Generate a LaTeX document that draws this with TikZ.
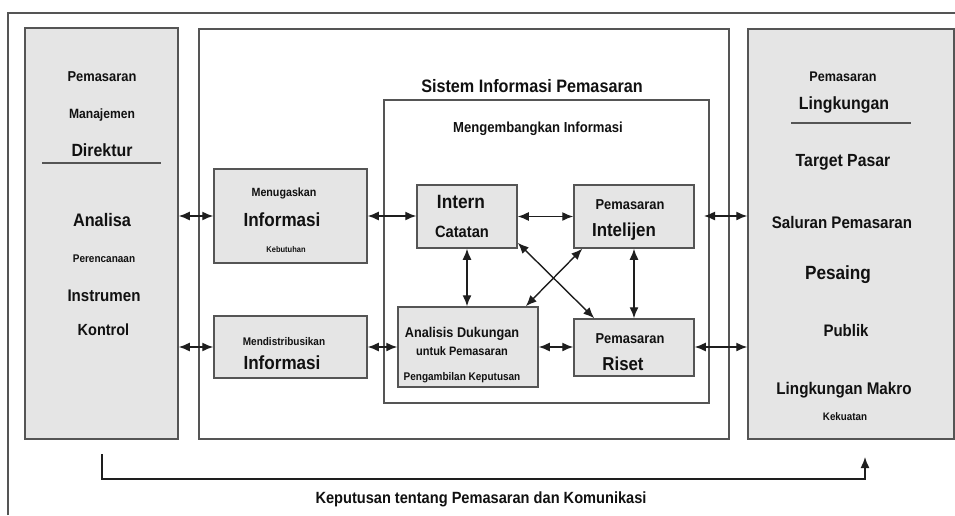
\documentclass[tikz,border=0pt]{standalone}
\usepackage{fontspec}
\setmainfont{Liberation Sans}[FakeStretch=0.9]
\usetikzlibrary{arrows.meta,calc}

\definecolor{boxgray}{HTML}{555555}
\definecolor{boxfill}{HTML}{E5E5E5}
\definecolor{txtgray}{HTML}{111111}
\definecolor{linegray}{HTML}{1E1E1E}
\newcommand{\fsz}[1]{\fontsize{\fpeval{#1*10/9}}{\fpeval{#1*10/9}}\selectfont\bfseries}

\begin{document}
\begin{tikzpicture}[x=1pt,y=-1pt,
    box/.style={draw=boxgray, line width=1.5pt, fill=boxfill, inner sep=0pt},
    panel/.style={draw=boxgray, line width=1.5pt, inner sep=0pt},
    lbl/.style={anchor=base, inner sep=0pt, text=txtgray},
    conn/.style={draw=linegray, line width=1.4pt, {Latex[length=11pt,width=9pt]}-{Latex[length=11pt,width=9pt]}},
    fback/.style={draw=linegray, line width=1.4pt, -{Latex[length=11pt,width=9pt]}}]
\useasboundingbox (0,0) rectangle (955,515);

% outer frame (cut off at right and bottom)
\draw[boxgray, line width=2pt] (8,515) |- (955,13);

% the three columns
\node[box, minimum width=153pt, minimum height=411pt] (lbox) at (101.5,233.5) {};
\node[panel, minimum width=530pt, minimum height=410pt] (mid) at (464,234) {};
\node[box, minimum width=206pt, minimum height=410pt] (rbox) at (851,234) {};
\node[panel, minimum width=325pt, minimum height=303pt] (inner) at (546.5,251.5) {};

% inner boxes
\node[box, minimum width=153pt, minimum height=94pt] (menu) at (290.5,216) {};
\node[box, minimum width=153pt, minimum height=62pt] (dist) at (290.5,347) {};
\node[box, minimum width=100pt, minimum height=63pt] (intern) at (467,216.5) {};
\node[box, minimum width=120pt, minimum height=63pt] (intel) at (634,216.5) {};
\node[box, minimum width=140pt, minimum height=80pt] (anl) at (468,347) {};
\node[box, minimum width=120pt, minimum height=57pt] (riset) at (634,347.5) {};

% left column text
\node[lbl] (lpem) at (102,81) {\fsz{12.9}Pemasaran};
\node[lbl] (lman) at (102,118) {\fsz{12.1}Manajemen};
\node[lbl] (ldir) at (102,156.5) {\fsz{15.9}Direktur};
\draw[boxgray, line width=1.5pt] (42,163) -- (161,163);
\node[lbl] (lana) at (102,226.5) {\fsz{16.3}Analisa};
\node[lbl] (lper) at (104,262) {\fsz{10}Perencanaan};
\node[lbl] (lins) at (104,301) {\fsz{15.1}Instrumen};
\node[lbl] (lkon) at (103.5,335.8) {\fsz{14.5}Kontrol};

% middle text
\node[lbl] (title) at (532,92.5) {\fsz{16.2}Sistem Informasi Pemasaran};
\node[lbl] (dev) at (538,132.2) {\fsz{13.1}Mengembangkan Informasi};
\node[lbl] (menua) at (284,196.3) {\fsz{10.7}Menugaskan};
\node[lbl] (menub) at (282,226.9) {\fsz{17.1}Informasi};
\node[lbl] (menuc) at (286,252) {\fsz{7.5}Kebutuhan};
\node[lbl] (dista) at (284,345) {\fsz{10}Mendistribusikan};
\node[lbl] (distb) at (282,369.9) {\fsz{17.1}Informasi};
\node[lbl] (interna) at (461,208.9) {\fsz{17.3}Intern};
\node[lbl] (internb) at (462,237.9) {\fsz{14.7}Catatan};
\node[lbl] (intela) at (630,209.1) {\fsz{12.9}Pemasaran};
\node[lbl] (intelb) at (624,236.8) {\fsz{16.9}Intelijen};
\node[lbl] (anla) at (462,337.1) {\fsz{12.7}Analisis Dukungan};
\node[lbl] (anlb) at (462,355.4) {\fsz{11}untuk Pemasaran};
\node[lbl] (anlc) at (462,380) {\fsz{10}Pengambilan Keputusan};
\node[lbl] (riseta) at (630,343.1) {\fsz{12.9}Pemasaran};
\node[lbl] (risetb) at (623,370.7) {\fsz{16.8}Riset};

% right column text
\node[lbl] (rpem) at (843,81) {\fsz{12.6}Pemasaran};
\node[lbl] (rling) at (844,109.3) {\fsz{15.9}Lingkungan};
\draw[boxgray, line width=1.5pt] (791,123) -- (911,123);
\node[lbl] (rtar) at (843,166.3) {\fsz{15.8}Target Pasar};
\node[lbl] (rsal) at (842,228) {\fsz{15.1}Saluran Pemasaran};
\node[lbl] (rpes) at (838,279.9) {\fsz{17.2}Pesaing};
\node[lbl] (rpub) at (846,336) {\fsz{15}Publik};
\node[lbl] (rmak) at (844,394) {\fsz{15.2}Lingkungan Makro};
\node[lbl] (rkek) at (845,420.9) {\fsz{9.8}Kekuatan};

% connectors
\coordinate (intelout) at (704,216);
\draw[conn] (lbox.east |- menu.west) -- (menu.west);
\draw[conn] (menu.east) -- (menu.east -| intern.west);
\draw[conn] (intern.east) -- (intel.west);
\draw[conn] (intelout) -- (intelout -| rbox.west);
\draw[conn] (lbox.east |- dist.west) -- (dist.west);
\draw[conn] (dist.east) -- (anl.west);
\draw[conn] (anl.east) -- (anl.east -| riset.west);
\draw[conn] (riset.east |- anl.east) -- (rbox.west |- anl.east);
\draw[conn] (intern.south) -- (intern.south |- anl.north);
\draw[conn] (intel.south) -- (riset.north);
\draw[conn] ([yshift=6pt]intern.south east) -- ([xshift=21pt]riset.north west);
\draw[conn] ([xshift=9pt]intel.south west) -- ([xshift=-13pt]anl.north east);

% feedback loop
\coordinate (fbstart) at (102,454);
\coordinate (fbcorner) at (102,479);
\coordinate (fbend) at (865,457);
\draw[fback] (fbstart) -- (fbcorner) -| (fbend);
\node[lbl] (fbtext) at (481,503.8) {\fsz{14.6}Keputusan tentang Pemasaran dan Komunikasi};
\end{tikzpicture}
\end{document}
